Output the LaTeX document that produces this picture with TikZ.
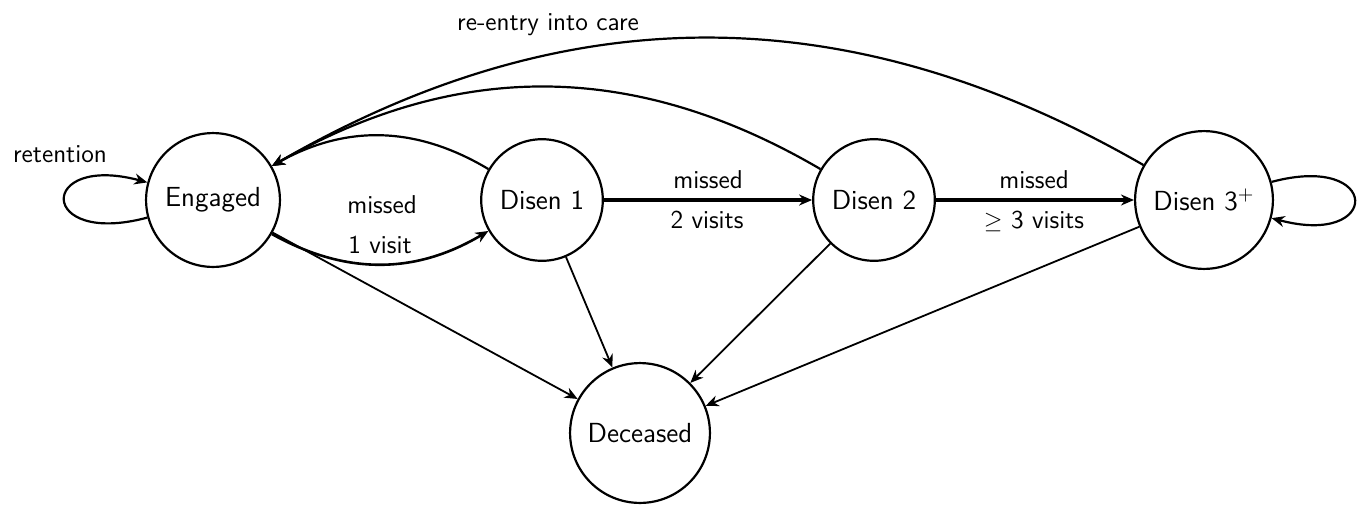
\documentclass[tikz,border=0pt]{standalone}
\usetikzlibrary{arrows.meta}
\begin{document}
\begin{tikzpicture}[x=0.5pt,y=0.5pt,
  state/.style={circle,draw,line width=1.1pt,inner sep=6.9pt,font=\sffamily\fontsize{13.8}{16}\selectfont},
  lbl/.style={font=\sffamily\fontsize{12.9}{15}\selectfont,anchor=base,inner sep=0pt},
  >={Stealth[length=6.5pt,width=5.5pt]},
  back/.style={->,line width=1.1pt},
  prog/.style={->,line width=1.6pt},
  first/.style={->,line width=1.3pt},
  death/.style={->,line width=0.9pt}]
\useasboundingbox (0,0) rectangle (1360,-504);
\node[state] (e)  at (213,-200)  {Engaged};
\node[state] (d1) at (542,-200)  {Disen 1};
\node[state] (d2) at (874,-200)  {Disen 2};
\node[state] (d3) at (1204,-200) {Disen 3$^{+}$};
\node[state] (dc) at (640,-433)  {Deceased};
% self loops
\draw[back] (e) to[out=195,in=165,distance=57pt] (e);
\draw[back] (d3) to[out=15,in=-15,distance=57pt] (d3);
% progression
\draw[first] (e) to[bend right=30] (d1);
\draw[prog] (d1) -- (d2);
\draw[prog] (d2) -- (d3);
% re-entry
\draw[back] (d1) to[bend right=30] (e);
\draw[back] (d2) to[bend right=30] (e);
\draw[back] (d3) to[bend right=30] (e);
% death
\draw[death] (e) -- (dc);
\draw[death] (d1) -- (dc);
\draw[death] (d2) -- (dc);
\draw[death] (d3) -- (dc);
% labels
\node[lbl] (lret) at (60,-162) {retention};
\node[lbl] (lre) at (548,-30) {re-entry into care};
\node[lbl] (m1) at (382,-213) {missed};
\node[lbl] (v1) at (380,-253) {1 visit};
\node[lbl] (m2) at (708,-188) {missed};
\node[lbl] (v2) at (707,-228) {2 visits};
\node[lbl] (m3) at (1034,-188) {missed};
\node[lbl] (v3) at (1034,-228) {$\geq$ 3 visits};
\end{tikzpicture}
\end{document}
